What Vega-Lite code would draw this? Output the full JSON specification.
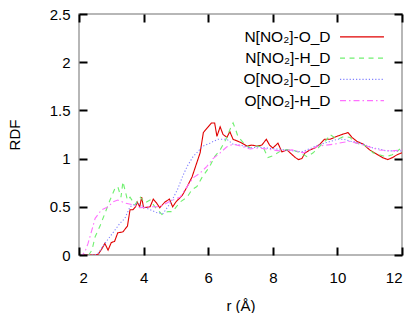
{
  "$schema": "https://vega.github.io/schema/vega-lite/v6.json",
  "width": 323,
  "height": 241,
  "autosize": "none",
  "padding": {"left": 79, "top": 14, "right": 12, "bottom": 58},
  "background": "white",
  "config": {
    "font": "Liberation Sans",
    "view": {"stroke": "#a0a0a0", "strokeWidth": 1.5},
    "axis": {
      "grid": false,
      "domain": false,
      "labelFont": "Liberation Sans",
      "labelFontSize": 15,
      "labelColor": "black",
      "titleFont": "Liberation Sans",
      "titleFontSize": 15,
      "titleFontWeight": "normal",
      "titleColor": "black"
    },
    "legend": {
      "orient": "none",
      "legendX": 274.5,
      "legendY": 14.3,
      "padding": 0,
      "title": null,
      "symbolType": "M-2.93,0H2.93",
      "symbolSize": 225,
      "symbolStrokeWidth": 1.2,
      "labelFont": "Liberation Sans",
      "labelFontSize": 15.5,
      "labelColor": "black",
      "labelAlign": "right",
      "labelOffset": -40,
      "rowPadding": 4.3
    }
  },
  "datasets": {
    "rdf": [
      {"s": "N[NO₂]-O_D", "r": 2.0, "g": 0}, {"s": "N[NO₂]-O_D", "r": 2.5, "g": 0}, {"s": "N[NO₂]-O_D", "r": 2.6, "g": 0.01}, {"s": "N[NO₂]-O_D", "r": 2.7, "g": 0.06}, {"s": "N[NO₂]-O_D", "r": 2.8, "g": 0.12}, {"s": "N[NO₂]-O_D", "r": 2.9, "g": 0.05}, {"s": "N[NO₂]-O_D", "r": 3.0, "g": 0.13}, {"s": "N[NO₂]-O_D", "r": 3.1, "g": 0.14}, {"s": "N[NO₂]-O_D", "r": 3.2, "g": 0.23}, {"s": "N[NO₂]-O_D", "r": 3.36, "g": 0.24}, {"s": "N[NO₂]-O_D", "r": 3.5, "g": 0.3}, {"s": "N[NO₂]-O_D", "r": 3.58, "g": 0.47}, {"s": "N[NO₂]-O_D", "r": 3.67, "g": 0.47}, {"s": "N[NO₂]-O_D", "r": 3.75, "g": 0.5}, {"s": "N[NO₂]-O_D", "r": 3.8, "g": 0.55}, {"s": "N[NO₂]-O_D", "r": 3.88, "g": 0.5}, {"s": "N[NO₂]-O_D", "r": 3.94, "g": 0.6}, {"s": "N[NO₂]-O_D", "r": 4.0, "g": 0.49}, {"s": "N[NO₂]-O_D", "r": 4.2, "g": 0.5}, {"s": "N[NO₂]-O_D", "r": 4.3, "g": 0.58}, {"s": "N[NO₂]-O_D", "r": 4.4, "g": 0.54}, {"s": "N[NO₂]-O_D", "r": 4.5, "g": 0.49}, {"s": "N[NO₂]-O_D", "r": 4.66, "g": 0.55}, {"s": "N[NO₂]-O_D", "r": 4.8, "g": 0.58}, {"s": "N[NO₂]-O_D", "r": 4.9, "g": 0.5}, {"s": "N[NO₂]-O_D", "r": 5.0, "g": 0.55}, {"s": "N[NO₂]-O_D", "r": 5.2, "g": 0.62}, {"s": "N[NO₂]-O_D", "r": 5.35, "g": 0.71}, {"s": "N[NO₂]-O_D", "r": 5.5, "g": 0.81}, {"s": "N[NO₂]-O_D", "r": 5.65, "g": 0.96}, {"s": "N[NO₂]-O_D", "r": 5.75, "g": 1.06}, {"s": "N[NO₂]-O_D", "r": 5.85, "g": 1.27}, {"s": "N[NO₂]-O_D", "r": 6.0, "g": 1.33}, {"s": "N[NO₂]-O_D", "r": 6.1, "g": 1.37}, {"s": "N[NO₂]-O_D", "r": 6.2, "g": 1.37}, {"s": "N[NO₂]-O_D", "r": 6.27, "g": 1.23}, {"s": "N[NO₂]-O_D", "r": 6.37, "g": 1.33}, {"s": "N[NO₂]-O_D", "r": 6.46, "g": 1.25}, {"s": "N[NO₂]-O_D", "r": 6.58, "g": 1.22}, {"s": "N[NO₂]-O_D", "r": 6.67, "g": 1.28}, {"s": "N[NO₂]-O_D", "r": 6.77, "g": 1.2}, {"s": "N[NO₂]-O_D", "r": 6.92, "g": 1.18}, {"s": "N[NO₂]-O_D", "r": 7.05, "g": 1.16}, {"s": "N[NO₂]-O_D", "r": 7.2, "g": 1.13}, {"s": "N[NO₂]-O_D", "r": 7.35, "g": 1.14}, {"s": "N[NO₂]-O_D", "r": 7.5, "g": 1.13}, {"s": "N[NO₂]-O_D", "r": 7.66, "g": 1.14}, {"s": "N[NO₂]-O_D", "r": 7.8, "g": 1.2}, {"s": "N[NO₂]-O_D", "r": 7.9, "g": 1.14}, {"s": "N[NO₂]-O_D", "r": 8.0, "g": 1.11}, {"s": "N[NO₂]-O_D", "r": 8.16, "g": 1.16}, {"s": "N[NO₂]-O_D", "r": 8.28, "g": 1.07}, {"s": "N[NO₂]-O_D", "r": 8.44, "g": 1.09}, {"s": "N[NO₂]-O_D", "r": 8.6, "g": 1.04}, {"s": "N[NO₂]-O_D", "r": 8.7, "g": 1.01}, {"s": "N[NO₂]-O_D", "r": 8.8, "g": 0.99}, {"s": "N[NO₂]-O_D", "r": 8.9, "g": 1.0}, {"s": "N[NO₂]-O_D", "r": 9.0, "g": 1.06}, {"s": "N[NO₂]-O_D", "r": 9.15, "g": 1.09}, {"s": "N[NO₂]-O_D", "r": 9.3, "g": 1.11}, {"s": "N[NO₂]-O_D", "r": 9.46, "g": 1.15}, {"s": "N[NO₂]-O_D", "r": 9.6, "g": 1.2}, {"s": "N[NO₂]-O_D", "r": 9.77, "g": 1.2}, {"s": "N[NO₂]-O_D", "r": 9.98, "g": 1.23}, {"s": "N[NO₂]-O_D", "r": 10.14, "g": 1.25}, {"s": "N[NO₂]-O_D", "r": 10.33, "g": 1.27}, {"s": "N[NO₂]-O_D", "r": 10.45, "g": 1.22}, {"s": "N[NO₂]-O_D", "r": 10.6, "g": 1.18}, {"s": "N[NO₂]-O_D", "r": 10.8, "g": 1.15}, {"s": "N[NO₂]-O_D", "r": 11.0, "g": 1.09}, {"s": "N[NO₂]-O_D", "r": 11.2, "g": 1.05}, {"s": "N[NO₂]-O_D", "r": 11.4, "g": 1.01}, {"s": "N[NO₂]-O_D", "r": 11.56, "g": 0.99}, {"s": "N[NO₂]-O_D", "r": 11.7, "g": 1.01}, {"s": "N[NO₂]-O_D", "r": 11.85, "g": 1.04}, {"s": "N[NO₂]-O_D", "r": 12.0, "g": 1.06},

      {"s": "N[NO₂]-H_D", "r": 2.0, "g": 0}, {"s": "N[NO₂]-H_D", "r": 2.3, "g": 0}, {"s": "N[NO₂]-H_D", "r": 2.4, "g": 0.05}, {"s": "N[NO₂]-H_D", "r": 2.5, "g": 0.19}, {"s": "N[NO₂]-H_D", "r": 2.65, "g": 0.3}, {"s": "N[NO₂]-H_D", "r": 2.8, "g": 0.43}, {"s": "N[NO₂]-H_D", "r": 2.96, "g": 0.57}, {"s": "N[NO₂]-H_D", "r": 3.1, "g": 0.68}, {"s": "N[NO₂]-H_D", "r": 3.2, "g": 0.71}, {"s": "N[NO₂]-H_D", "r": 3.3, "g": 0.6}, {"s": "N[NO₂]-H_D", "r": 3.36, "g": 0.76}, {"s": "N[NO₂]-H_D", "r": 3.5, "g": 0.57}, {"s": "N[NO₂]-H_D", "r": 3.58, "g": 0.6}, {"s": "N[NO₂]-H_D", "r": 3.73, "g": 0.52}, {"s": "N[NO₂]-H_D", "r": 3.9, "g": 0.6}, {"s": "N[NO₂]-H_D", "r": 4.04, "g": 0.54}, {"s": "N[NO₂]-H_D", "r": 4.2, "g": 0.57}, {"s": "N[NO₂]-H_D", "r": 4.35, "g": 0.5}, {"s": "N[NO₂]-H_D", "r": 4.57, "g": 0.42}, {"s": "N[NO₂]-H_D", "r": 4.75, "g": 0.45}, {"s": "N[NO₂]-H_D", "r": 4.9, "g": 0.45}, {"s": "N[NO₂]-H_D", "r": 5.13, "g": 0.55}, {"s": "N[NO₂]-H_D", "r": 5.35, "g": 0.6}, {"s": "N[NO₂]-H_D", "r": 5.5, "g": 0.68}, {"s": "N[NO₂]-H_D", "r": 5.65, "g": 0.71}, {"s": "N[NO₂]-H_D", "r": 5.8, "g": 0.8}, {"s": "N[NO₂]-H_D", "r": 6.05, "g": 0.92}, {"s": "N[NO₂]-H_D", "r": 6.2, "g": 1.02}, {"s": "N[NO₂]-H_D", "r": 6.37, "g": 1.09}, {"s": "N[NO₂]-H_D", "r": 6.55, "g": 1.2}, {"s": "N[NO₂]-H_D", "r": 6.67, "g": 1.3}, {"s": "N[NO₂]-H_D", "r": 6.77, "g": 1.37}, {"s": "N[NO₂]-H_D", "r": 6.85, "g": 1.3}, {"s": "N[NO₂]-H_D", "r": 6.92, "g": 1.23}, {"s": "N[NO₂]-H_D", "r": 7.1, "g": 1.16}, {"s": "N[NO₂]-H_D", "r": 7.3, "g": 1.11}, {"s": "N[NO₂]-H_D", "r": 7.5, "g": 1.13}, {"s": "N[NO₂]-H_D", "r": 7.7, "g": 1.12}, {"s": "N[NO₂]-H_D", "r": 7.85, "g": 1.01}, {"s": "N[NO₂]-H_D", "r": 8.0, "g": 1.03}, {"s": "N[NO₂]-H_D", "r": 8.3, "g": 1.09}, {"s": "N[NO₂]-H_D", "r": 8.44, "g": 1.09}, {"s": "N[NO₂]-H_D", "r": 8.6, "g": 1.09}, {"s": "N[NO₂]-H_D", "r": 8.85, "g": 1.06}, {"s": "N[NO₂]-H_D", "r": 9.06, "g": 1.02}, {"s": "N[NO₂]-H_D", "r": 9.25, "g": 1.06}, {"s": "N[NO₂]-H_D", "r": 9.46, "g": 1.13}, {"s": "N[NO₂]-H_D", "r": 9.68, "g": 1.2}, {"s": "N[NO₂]-H_D", "r": 9.77, "g": 1.25}, {"s": "N[NO₂]-H_D", "r": 10.0, "g": 1.2}, {"s": "N[NO₂]-H_D", "r": 10.2, "g": 1.23}, {"s": "N[NO₂]-H_D", "r": 10.4, "g": 1.22}, {"s": "N[NO₂]-H_D", "r": 10.5, "g": 1.17}, {"s": "N[NO₂]-H_D", "r": 10.7, "g": 1.15}, {"s": "N[NO₂]-H_D", "r": 10.9, "g": 1.13}, {"s": "N[NO₂]-H_D", "r": 11.1, "g": 1.06}, {"s": "N[NO₂]-H_D", "r": 11.3, "g": 1.04}, {"s": "N[NO₂]-H_D", "r": 11.5, "g": 1.02}, {"s": "N[NO₂]-H_D", "r": 11.7, "g": 1.04}, {"s": "N[NO₂]-H_D", "r": 11.94, "g": 1.1},

      {"s": "O[NO₂]-O_D", "r": 2.0, "g": 0}, {"s": "O[NO₂]-O_D", "r": 2.5, "g": 0}, {"s": "O[NO₂]-O_D", "r": 2.6, "g": 0.02}, {"s": "O[NO₂]-O_D", "r": 2.8, "g": 0.12}, {"s": "O[NO₂]-O_D", "r": 3.05, "g": 0.23}, {"s": "O[NO₂]-O_D", "r": 3.27, "g": 0.33}, {"s": "O[NO₂]-O_D", "r": 3.42, "g": 0.38}, {"s": "O[NO₂]-O_D", "r": 3.58, "g": 0.5}, {"s": "O[NO₂]-O_D", "r": 3.8, "g": 0.54}, {"s": "O[NO₂]-O_D", "r": 4.0, "g": 0.5}, {"s": "O[NO₂]-O_D", "r": 4.2, "g": 0.47}, {"s": "O[NO₂]-O_D", "r": 4.4, "g": 0.44}, {"s": "O[NO₂]-O_D", "r": 4.6, "g": 0.43}, {"s": "O[NO₂]-O_D", "r": 4.75, "g": 0.5}, {"s": "O[NO₂]-O_D", "r": 4.9, "g": 0.58}, {"s": "O[NO₂]-O_D", "r": 5.05, "g": 0.68}, {"s": "O[NO₂]-O_D", "r": 5.2, "g": 0.81}, {"s": "O[NO₂]-O_D", "r": 5.35, "g": 0.92}, {"s": "O[NO₂]-O_D", "r": 5.53, "g": 1.02}, {"s": "O[NO₂]-O_D", "r": 5.7, "g": 1.08}, {"s": "O[NO₂]-O_D", "r": 5.84, "g": 1.13}, {"s": "O[NO₂]-O_D", "r": 6.05, "g": 1.16}, {"s": "O[NO₂]-O_D", "r": 6.3, "g": 1.2}, {"s": "O[NO₂]-O_D", "r": 6.58, "g": 1.2}, {"s": "O[NO₂]-O_D", "r": 6.77, "g": 1.15}, {"s": "O[NO₂]-O_D", "r": 7.0, "g": 1.14}, {"s": "O[NO₂]-O_D", "r": 7.3, "g": 1.11}, {"s": "O[NO₂]-O_D", "r": 7.55, "g": 1.12}, {"s": "O[NO₂]-O_D", "r": 7.8, "g": 1.11}, {"s": "O[NO₂]-O_D", "r": 8.1, "g": 1.1}, {"s": "O[NO₂]-O_D", "r": 8.4, "g": 1.09}, {"s": "O[NO₂]-O_D", "r": 8.65, "g": 1.08}, {"s": "O[NO₂]-O_D", "r": 8.9, "g": 1.07}, {"s": "O[NO₂]-O_D", "r": 9.2, "g": 1.11}, {"s": "O[NO₂]-O_D", "r": 9.4, "g": 1.14}, {"s": "O[NO₂]-O_D", "r": 9.6, "g": 1.16}, {"s": "O[NO₂]-O_D", "r": 9.8, "g": 1.18}, {"s": "O[NO₂]-O_D", "r": 10.0, "g": 1.2}, {"s": "O[NO₂]-O_D", "r": 10.2, "g": 1.2}, {"s": "O[NO₂]-O_D", "r": 10.4, "g": 1.18}, {"s": "O[NO₂]-O_D", "r": 10.6, "g": 1.17}, {"s": "O[NO₂]-O_D", "r": 10.8, "g": 1.15}, {"s": "O[NO₂]-O_D", "r": 11.1, "g": 1.11}, {"s": "O[NO₂]-O_D", "r": 11.3, "g": 1.1}, {"s": "O[NO₂]-O_D", "r": 11.5, "g": 1.08}, {"s": "O[NO₂]-O_D", "r": 11.75, "g": 1.08}, {"s": "O[NO₂]-O_D", "r": 12.0, "g": 1.08},

      {"s": "O[NO₂]-H_D", "r": 2.0, "g": 0}, {"s": "O[NO₂]-H_D", "r": 2.1, "g": 0}, {"s": "O[NO₂]-H_D", "r": 2.18, "g": 0.03}, {"s": "O[NO₂]-H_D", "r": 2.28, "g": 0.12}, {"s": "O[NO₂]-H_D", "r": 2.4, "g": 0.26}, {"s": "O[NO₂]-H_D", "r": 2.5, "g": 0.38}, {"s": "O[NO₂]-H_D", "r": 2.7, "g": 0.47}, {"s": "O[NO₂]-H_D", "r": 2.9, "g": 0.5}, {"s": "O[NO₂]-H_D", "r": 3.05, "g": 0.55}, {"s": "O[NO₂]-H_D", "r": 3.2, "g": 0.57}, {"s": "O[NO₂]-H_D", "r": 3.42, "g": 0.54}, {"s": "O[NO₂]-H_D", "r": 3.67, "g": 0.52}, {"s": "O[NO₂]-H_D", "r": 3.9, "g": 0.49}, {"s": "O[NO₂]-H_D", "r": 4.2, "g": 0.5}, {"s": "O[NO₂]-H_D", "r": 4.5, "g": 0.5}, {"s": "O[NO₂]-H_D", "r": 4.72, "g": 0.54}, {"s": "O[NO₂]-H_D", "r": 4.9, "g": 0.57}, {"s": "O[NO₂]-H_D", "r": 5.13, "g": 0.6}, {"s": "O[NO₂]-H_D", "r": 5.35, "g": 0.71}, {"s": "O[NO₂]-H_D", "r": 5.53, "g": 0.8}, {"s": "O[NO₂]-H_D", "r": 5.75, "g": 0.85}, {"s": "O[NO₂]-H_D", "r": 5.96, "g": 0.92}, {"s": "O[NO₂]-H_D", "r": 6.15, "g": 1.0}, {"s": "O[NO₂]-H_D", "r": 6.37, "g": 1.06}, {"s": "O[NO₂]-H_D", "r": 6.57, "g": 1.12}, {"s": "O[NO₂]-H_D", "r": 6.77, "g": 1.15}, {"s": "O[NO₂]-H_D", "r": 7.0, "g": 1.13}, {"s": "O[NO₂]-H_D", "r": 7.3, "g": 1.1}, {"s": "O[NO₂]-H_D", "r": 7.55, "g": 1.11}, {"s": "O[NO₂]-H_D", "r": 7.8, "g": 1.1}, {"s": "O[NO₂]-H_D", "r": 8.0, "g": 1.09}, {"s": "O[NO₂]-H_D", "r": 8.2, "g": 1.08}, {"s": "O[NO₂]-H_D", "r": 8.6, "g": 1.09}, {"s": "O[NO₂]-H_D", "r": 8.95, "g": 1.06}, {"s": "O[NO₂]-H_D", "r": 9.2, "g": 1.1}, {"s": "O[NO₂]-H_D", "r": 9.4, "g": 1.13}, {"s": "O[NO₂]-H_D", "r": 9.9, "g": 1.15}, {"s": "O[NO₂]-H_D", "r": 10.2, "g": 1.17}, {"s": "O[NO₂]-H_D", "r": 10.4, "g": 1.18}, {"s": "O[NO₂]-H_D", "r": 10.6, "g": 1.16}, {"s": "O[NO₂]-H_D", "r": 10.9, "g": 1.13}, {"s": "O[NO₂]-H_D", "r": 11.3, "g": 1.09}, {"s": "O[NO₂]-H_D", "r": 11.7, "g": 1.08}, {"s": "O[NO₂]-H_D", "r": 12.0, "g": 1.09}
    ]
  },
  "layer": [
    {
      "data": {"name": "rdf"},
      "mark": {"type": "line", "strokeWidth": 1.1, "clip": true},
      "encoding": {
        "x": {"field": "r", "type": "quantitative", "title": "r (Å)",
              "scale": {"domain": [2, 12], "nice": false, "zero": false},
              "axis": {"orient": "bottom", "values": [2, 4, 6, 8, 10, 12], "format": "d", "labelPadding": 15, "titlePadding": 13, "ticks": true, "tickSize": 8, "tickWidth": 2, "tickColor": "#000000", "offset": -8, "zindex": 3}},
        "y": {"field": "g", "type": "quantitative", "title": "RDF",
              "scale": {"domain": [0, 2.5], "nice": false},
              "axis": {"orient": "left", "values": [0, 0.5, 1, 1.5, 2, 2.5], "format": "~g", "labelPadding": 9, "titlePadding": 27, "ticks": true, "tickSize": 8, "tickWidth": 2, "tickColor": "#000000", "offset": -8, "zindex": 3}},
        "color": {"field": "s", "type": "nominal",
                  "scale": {"domain": ["N[NO₂]-O_D", "N[NO₂]-H_D", "O[NO₂]-O_D", "O[NO₂]-H_D"],
                            "range": ["#e00000", "#70f070", "#8080ff", "#ff70ff"]}},
        "strokeDash": {"field": "s", "type": "nominal",
                       "scale": {"domain": ["N[NO₂]-O_D", "N[NO₂]-H_D", "O[NO₂]-O_D", "O[NO₂]-H_D"],
                                 "range": [[1, 0], [5, 4.5], [1.2, 2], [6, 3, 1.5, 3]]}}
      }
    },
    {
      "mark": {"type": "text", "align": "left", "baseline": "middle", "fontSize": 15, "font": "Liberation Sans", "color": "black"},
      "encoding": {
        "x": {"datum": 5.85, "type": "quantitative",
              "axis": {"orient": "top", "values": [2, 4, 6, 8, 10, 12], "labels": false, "title": null, "ticks": true, "tickSize": 8, "tickColor": "#000000", "tickWidth": 2, "offset": -8, "zindex": 3}},
        "y": {"datum": 0.39, "type": "quantitative",
              "axis": {"orient": "right", "values": [0, 0.5, 1, 1.5, 2, 2.5], "labels": false, "title": null, "ticks": true, "tickSize": 8, "tickColor": "#000000", "tickWidth": 2, "offset": -8, "zindex": 3}},
        "text": {"value": "T = 298 K, P = 2 bar"}
      }
    }
  ],
  "resolve": {"axis": {"x": "independent", "y": "independent"}}
}
